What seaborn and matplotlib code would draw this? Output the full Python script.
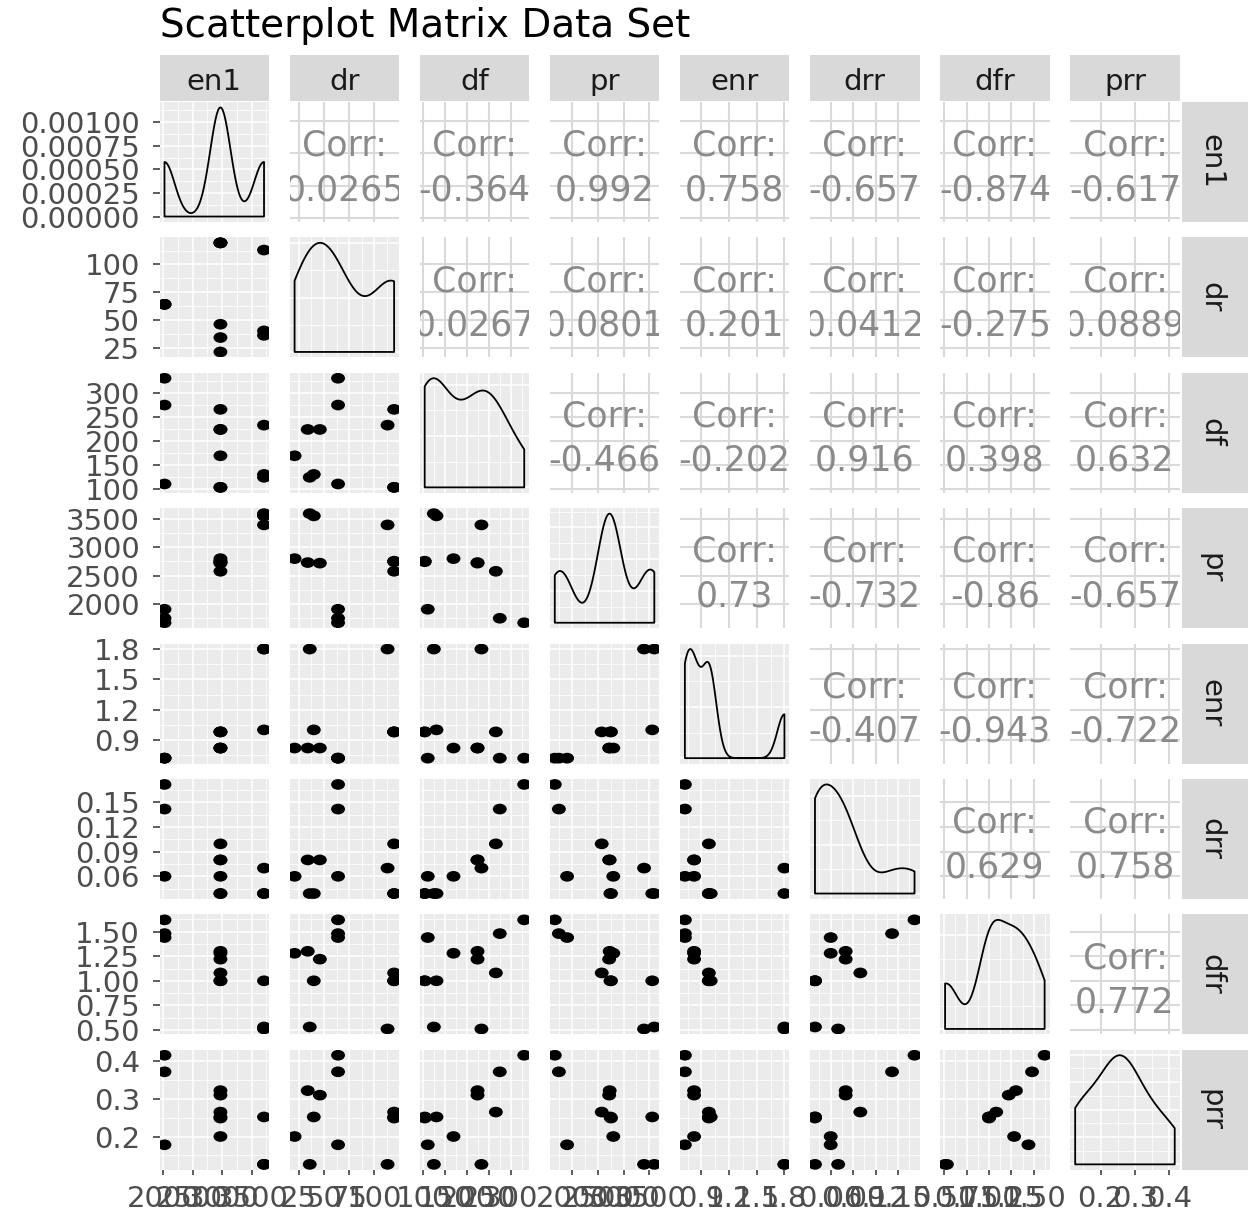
import numpy as np
import pandas as pd
import matplotlib
matplotlib.use("Agg")
import matplotlib.pyplot as plt
from matplotlib.path import Path
from matplotlib.ticker import MaxNLocator
import seaborn as sns

en1 = [2020, 2020, 2020, 2970, 2970, 2970, 2970, 2970, 2970, 3710, 3710, 3710]
dr = [64, 64, 64, 119.5, 119.5, 21, 34, 46, 119.5, 36, 113, 40]
df = [110, 275, 331, 103, 103, 169, 224, 224, 266, 124, 233, 130]
pr = [1900, 1740, 1660, 2745, 2755, 2800, 2730, 2720, 2575, 3600, 3400, 3560]
enr = [0.72, 0.72, 0.72, 0.98, 0.98, 0.82, 0.82, 0.82, 0.98, 1.80, 1.80, 1.00]
drr = [0.060, 0.142, 0.172, 0.039, 0.039, 0.060, 0.080, 0.080, 0.0996, 0.039, 0.070, 0.039]
dfr = [1.44, 1.48, 1.62, 1.00, 1.00, 1.28, 1.30, 1.22, 1.08, 0.53, 0.51, 1.00]
prr = [0.178, 0.372, 0.416, 0.252, 0.249, 0.200, 0.322, 0.310, 0.265, 0.126, 0.126, 0.252]

var_names = ["en1", "dr", "df", "pr", "enr", "drr", "dfr", "prr"]

tick_values = {
    "en1": [2000, 2500, 3000, 3500],
    "dr": [25, 50, 75, 100],
    "df": [100, 150, 200, 250, 300],
    "pr": [2000, 2500, 3000, 3500],
    "enr": [0.9, 1.2, 1.5, 1.8],
    "drr": [0.06, 0.09, 0.12, 0.15],
    "dfr": [0.50, 0.75, 1.00, 1.25, 1.50],
    "prr": [0.2, 0.3, 0.4],
}
tick_labels = {
    "en1": ["2000", "2500", "3000", "3500"],
    "dr": ["25", "50", "75", "100"],
    "df": ["100", "150", "200", "250", "300"],
    "pr": ["2000", "2500", "3000", "3500"],
    "enr": ["0.9", "1.2", "1.5", "1.8"],
    "drr": ["0.06", "0.09", "0.12", "0.15"],
    "dfr": ["0.50", "0.75", "1.00", "1.25", "1.50"],
    "prr": ["0.2", "0.3", "0.4"],
}
density_ticks = [0, 0.00025, 0.0005, 0.00075, 0.001]
density_labels = ["0.00000", "0.00025", "0.00050", "0.00075", "0.00100"]

# upper triangle labels, row by row
corr_text = [
    ["0.0265", "-0.364", "0.992", "0.758", "-0.657", "-0.874", "-0.617"],
    ["0.0267", "0.0801", "0.201", "0.0412", "-0.275", "0.0889"],
    ["-0.466", "-0.202", "0.916", "0.398", "0.632"],
    ["0.73", "-0.732", "-0.86", "-0.657"],
    ["-0.407", "-0.943", "-0.722"],
    ["0.629", "0.758"],
    ["0.772"],
]

data = pd.DataFrame({"en1": en1, "dr": dr, "df": df, "pr": pr,
                     "enr": enr, "drr": drr, "dfr": dfr, "prr": prr})

plt.rcParams["font.family"] = ["DejaVu Sans"]

PANEL_BG = "#EBEBEB"
STRIP_BG = "#D9D9D9"
W, H = 1248, 1210
fig = plt.figure(figsize=(W / 100, H / 100), dpi=100)


def box(x0, y0, w, h):
    return [x0 / W, 1 - (y0 + h) / H, w / W, h / H]


def bw_nrd0(x):
    # R's default bandwidth, as used by geom_density
    sd = x.std(ddof=1)
    q75, q25 = np.percentile(x, [75, 25])
    lo = min(sd, (q75 - q25) / 1.34)
    if lo == 0:
        lo = sd
    return 0.9 * lo * len(x) ** -0.2


def minor_breaks(major, lo, hi):
    step = major[1] - major[0]
    cands = [major[0] - step / 2]
    cands += [(a + b) / 2 for a, b in zip(major[:-1], major[1:])]
    cands += [major[-1] + step / 2]
    return [c for c in cands if lo <= c <= hi]


circ = Path.unit_circle()
oval = Path(circ.vertices * np.array([1.3, 1.0]), circ.codes)

limits = {}
for v in var_names:
    lo, hi = data[v].min(), data[v].max()
    limits[v] = (lo - 0.05 * (hi - lo), hi + 0.05 * (hi - lo))

n = len(var_names)
for i, yv in enumerate(var_names):
    for j, xv in enumerate(var_names):
        ax = fig.add_axes(box(159.5 + 130.1 * j, 102 + 135.4 * i, 109.5, 120))
        for s in ax.spines.values():
            s.set_visible(False)

        if i == j:
            ax.set_facecolor(PANEL_BG)
            vals = data[xv].to_numpy(float)
            sns.kdeplot(x=vals, ax=ax, bw_method=bw_nrd0(vals) / vals.std(ddof=1),
                        cut=0, gridsize=300, fill=True, color="black", facecolor="none",
                        edgecolor="black", linewidth=1.3)
            dmax = ax.collections[-1].get_paths()[0].vertices[:, 1].max()
            ylim = (-0.05 * dmax, 1.05 * dmax)
            if i == 0:
                yt = density_ticks
            else:
                yt = [t for t in MaxNLocator(nbins=4, steps=[1, 2, 2.5, 5, 10]).tick_values(0, dmax)
                      if ylim[0] <= t <= ylim[1]]
            ax.grid(which="major", color="white", linewidth=1.1)
            ax.grid(which="minor", color="white", linewidth=0.55)
        elif i > j:
            ax.set_facecolor(PANEL_BG)
            sns.scatterplot(x=data[xv], y=data[yv], ax=ax, color="black", marker=oval,
                            s=100, edgecolor="none", linewidth=0, legend=False)
            ylim = limits[yv]
            yt = tick_values[yv]
            ax.grid(which="major", color="white", linewidth=1.1)
            ax.grid(which="minor", color="white", linewidth=0.55)
        else:
            ax.set_facecolor("white")
            ylim = limits[yv]
            yt = tick_values[yv]
            ax.grid(which="major", color="#DADADA", linewidth=1.5)
            ax.text(0.5, 0.553, "Corr:", transform=ax.transAxes, ha="center",
                    va="baseline", fontsize=25, color="#8A8A8A", clip_on=True)
            ax.text(0.5, 0.182, corr_text[i][j - i - 1], transform=ax.transAxes,
                    ha="center", va="baseline", fontsize=25, color="#8A8A8A", clip_on=True)

        ax.set_axisbelow(True)
        ax.set_xlim(limits[xv])
        ax.set_ylim(ylim)
        ax.set_xticks(tick_values[xv])
        ax.set_xticks(minor_breaks(tick_values[xv], *limits[xv]), minor=True)
        ax.set_yticks(yt)
        ax.set_yticks(minor_breaks(list(yt), *ylim), minor=True)
        ax.set_xlabel("")
        ax.set_ylabel("")
        ax.tick_params(which="minor", length=0)
        ax.tick_params(axis="y", which="major", left=(j == 0), labelleft=(j == 0),
                       length=5, width=1.1, color="#333333", pad=9,
                       labelsize=21, labelcolor="#4D4D4D")
        ax.tick_params(axis="x", which="major", bottom=(i == n - 1), labelbottom=(i == n - 1),
                       length=3.6, width=1.1, color="#333333", pad=7,
                       labelsize=21, labelcolor="#4D4D4D")
        if j == 0:
            ax.set_yticklabels(density_labels if i == 0 else tick_labels[yv])
        if i == n - 1:
            ax.set_xticklabels(tick_labels[xv])

# facet strips
for j, v in enumerate(var_names):
    sax = fig.add_axes(box(159.5 + 130.1 * j, 55, 109.5, 46))
    sax.set_facecolor(STRIP_BG)
    sax.set_xticks([])
    sax.set_yticks([])
    for s in sax.spines.values():
        s.set_visible(False)
    sax.text(0.5, 0.42, v, transform=sax.transAxes, ha="center", va="center",
             fontsize=21, color="#1A1A1A")

for i, v in enumerate(var_names):
    sax = fig.add_axes(box(1182, 102 + 135.4 * i, 66, 120))
    sax.set_facecolor(STRIP_BG)
    sax.set_xticks([])
    sax.set_yticks([])
    for s in sax.spines.values():
        s.set_visible(False)
    sax.text(0.45, 0.5, v, transform=sax.transAxes, ha="center", va="center",
             rotation=-90, fontsize=21, color="#1A1A1A")

fig.text(160 / W, 1 - 26 / H, "Scatterplot Matrix Data Set", ha="left", va="center",
         fontsize=28, color="black")

fig.savefig("out.png", dpi=100)
